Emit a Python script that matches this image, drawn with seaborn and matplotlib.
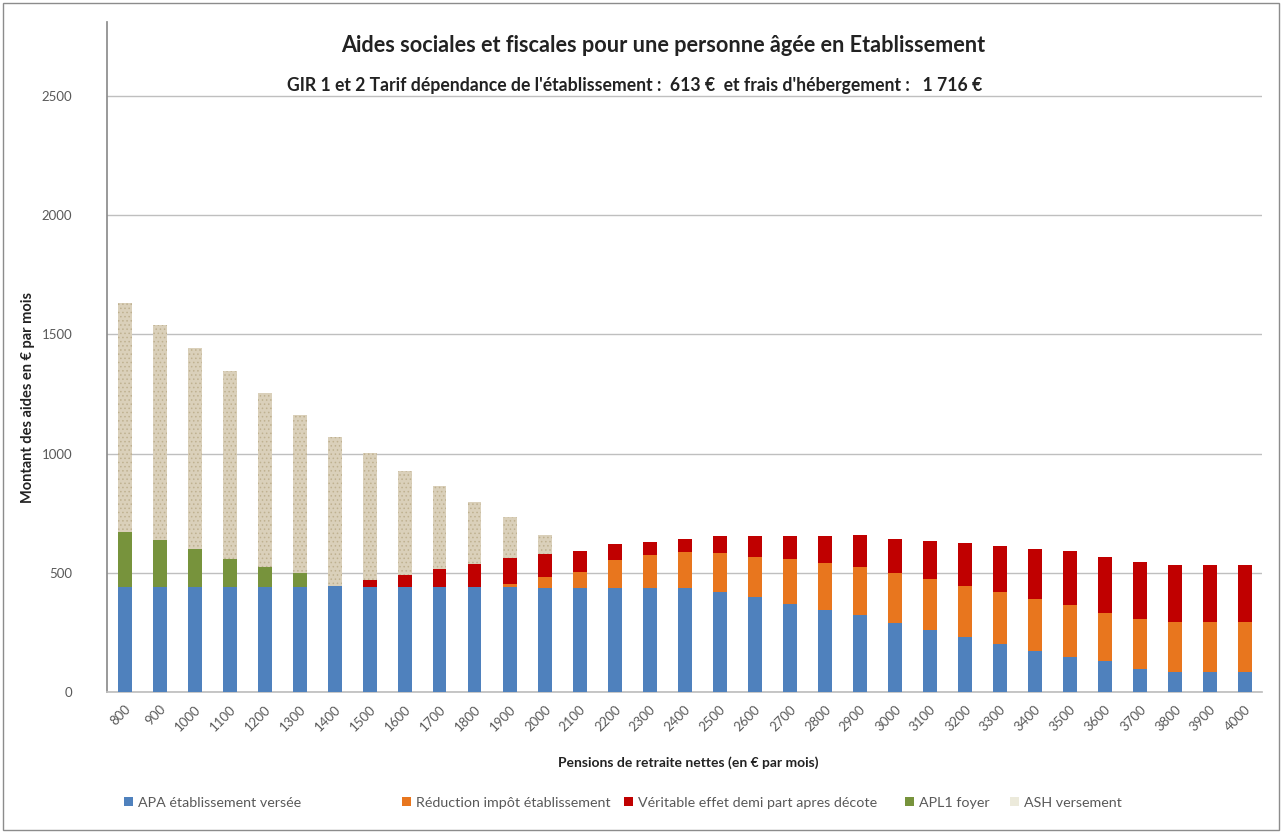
import matplotlib
matplotlib.use("Agg")
import matplotlib.pyplot as plt
from matplotlib.patches import Patch, Rectangle
import seaborn as sns
import pandas as pd
import numpy as np

# Monthly net pension (EUR)
pensions = [800, 900, 1000, 1100, 1200, 1300, 1400, 1500, 1600, 1700, 1800,
            1900, 2000, 2100, 2200, 2300, 2400, 2500, 2600, 2700, 2800, 2900,
            3000, 3100, 3200, 3300, 3400, 3500, 3600, 3700, 3800, 3900, 4000]

# Aid components (EUR per month), stacked bottom to top
apa = [440, 440, 440, 440, 440, 440, 443, 442, 442, 442, 442,
       442, 438, 438, 438, 438, 436, 421, 397, 369, 344, 322,
       288, 260, 229, 201, 173, 148, 128, 95, 85, 85, 85]
reduction_impot = [0, 0, 0, 0, 0, 0, 0, 0, 0, 0, 0,
                   13, 46, 67, 116, 137, 153, 163, 171, 187, 198, 201,
                   210, 213, 216, 218, 217, 216, 205, 213, 209, 209, 209]
demi_part = [0, 0, 0, 0, 0, 0, 0, 28, 49, 73, 95,
             105, 93, 88, 65, 56, 53, 70, 86, 98, 112, 136,
             145, 160, 179, 193, 211, 226, 235, 237, 237, 237, 237]
apl1 = [230, 196, 161, 119, 86, 58, 0, 0, 0, 0, 0,
        0, 0, 0, 0, 0, 0, 0, 0, 0, 0, 0,
        0, 0, 0, 0, 0, 0, 0, 0, 0, 0, 0]
ash = [963, 903, 841, 789, 730, 662, 625, 531, 437, 351, 261,
       172, 82, 0, 0, 0, 0, 0, 0, 0, 0, 0,
       0, 0, 0, 0, 0, 0, 0, 0, 0, 0, 0]

series_names = ["APA établissement versée", "Réduction impôt établissement",
                "Véritable effet demi part apres décote", "APL1 foyer",
                "ASH versement"]
series_values = [apa, reduction_impot, demi_part, apl1, ash]
series_colors = ["#4F81BD", "#E8761E", "#C00000", "#77933C", "#DAD0BA"]
legend_colors = ["#4F81BD", "#E8761E", "#C00000", "#77933C", "#ECEADB"]

title_line1 = "Aides sociales et fiscales pour une personne âgée en Etablissement"
title_line2 = ("GIR 1 et 2 Tarif dépendance de l'établissement :  613 €  "
               "et frais d'hébergement :   1 716 €")
y_label = "Montant des aides en € par mois"
x_label = "Pensions de retraite nettes (en € par mois)"
y_ticks = [0, 500, 1000, 1500, 2000, 2500]

sns.set_theme(style="white")
plt.rcParams["font.family"] = ["Lato", "DejaVu Sans"]
plt.rcParams["hatch.linewidth"] = 0.6

labels = [str(p) for p in pensions]
df = pd.DataFrame({"pension": labels})
for name, vals in zip(series_names, series_values):
    df[name] = vals

W, H = 1283, 832
fig = plt.figure(figsize=(W / 100, H / 100), dpi=100)
ax = fig.add_axes([107 / W, 1 - 692 / H, (1262 - 107) / W, (692 - 22) / H])

# Stacked bars: draw cumulative totals from the top layer down
cum = np.cumsum(np.array(series_values), axis=0)
for i in range(len(series_names) - 1, -1, -1):
    df["_top"] = cum[i]
    n_before = len(ax.patches)
    sns.barplot(data=df, x="pension", y="_top", color=series_colors[i],
                width=0.4, saturation=1, linewidth=0, ax=ax, order=labels,
                zorder=3)
    if i == len(series_names) - 1:
        for p in ax.patches[n_before:]:
            p.set_hatch("....")
            p.set_edgecolor("#BFB190")
            p.set_linewidth(0)

ax.set_ylim(0, 2810)
ax.set_xlim(-0.5, len(labels) - 0.5)
ax.set_yticks(y_ticks)
ax.set_yticklabels([str(t) for t in y_ticks], fontsize=9.5, color="#595959")
ax.yaxis.grid(True, color="#BFBFBF", linewidth=1, zorder=0)
ax.set_axisbelow(True)

for side in ["top", "right"]:
    ax.spines[side].set_visible(False)
ax.spines["left"].set_color("#8C8C8C")
ax.spines["bottom"].set_color("#BFBFBF")
ax.tick_params(axis="y", length=5, color="#8C8C8C", direction="out", pad=20)

# Category ticks sit between bars; labels at bar centres
ax.set_xticks(np.arange(len(labels)))
ax.set_xticklabels(labels, rotation=45, ha="right", rotation_mode="anchor",
                   fontsize=9.5, color="#595959")
ax.tick_params(axis="x", which="major", length=0, pad=8)
ax.set_xticks(np.arange(len(labels) + 1) - 0.5, minor=True)
ax.tick_params(axis="x", which="minor", length=5, color="#BFBFBF", direction="out")

ax.set_xlabel(x_label, fontsize=10, fontweight="bold", color="#222222")
ax.xaxis.set_label_coords(0.503, -0.096)
ax.set_ylabel(y_label, fontsize=10.5, fontweight="bold", color="#222222")
ax.yaxis.set_label_coords(-0.062, 0.44)

fig.text(663 / W, 1 - 46 / H, title_line1, ha="center", va="center",
         fontsize=15.6, fontweight="bold", color="#222222")
fig.text(287 / W, 1 - 85 / H, title_line2, ha="left", va="center",
         fontsize=12.7, fontweight="bold", color="#222222")

# One legend entry per slot along the bottom
legend_x = [124, 402, 624, 905, 1010]
for x0, name, c in zip(legend_x, series_names, legend_colors):
    lg = fig.legend([Patch(facecolor=c, edgecolor="none")], [name],
                    loc="center left", bbox_to_anchor=(x0 / W, 1 - 803 / H),
                    frameon=False, fontsize=10.3, labelcolor="#595959",
                    handlelength=0.6, handleheight=0.6, handletextpad=0.4,
                    borderpad=0, borderaxespad=0)

# Chart area border
fig.patches.append(Rectangle((3 / W, 2 / H), 1276 / W, 827 / H,
                             transform=fig.transFigure, fill=False,
                             edgecolor="#8C8C8C", linewidth=1))

fig.savefig("out.png", dpi=100, facecolor="white")
